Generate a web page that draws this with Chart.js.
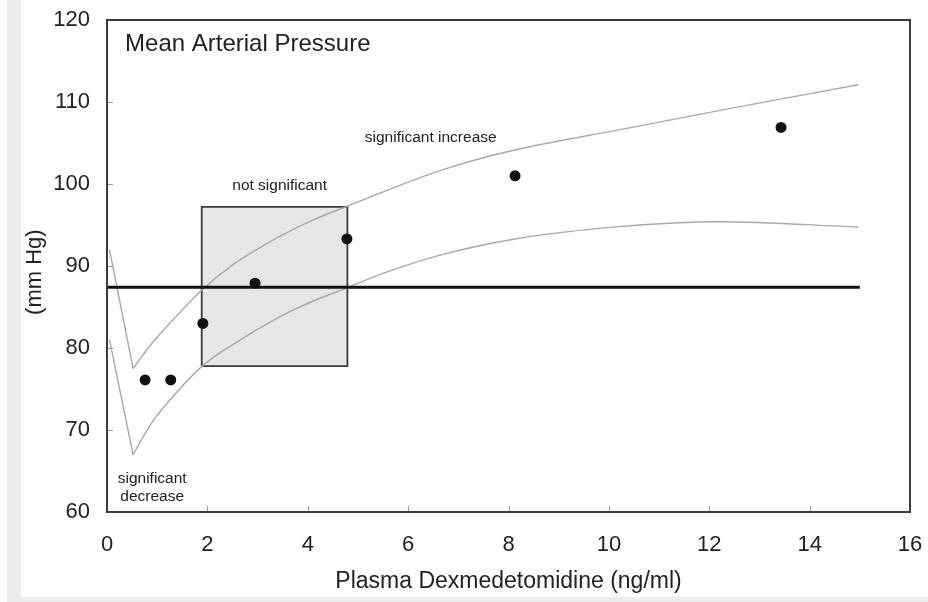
<!DOCTYPE html>
<html><head><meta charset="utf-8">
<script src="https://cdn.jsdelivr.net/npm/chart.js@4.4.0/dist/chart.umd.min.js"></script>
<style>
html,body{margin:0;padding:0;background:#fff;}
#wrap{position:relative;width:928px;height:602px;overflow:hidden;}
.strip{position:absolute;background:#ececec;}
canvas{position:absolute;left:0;top:0;}
</style></head><body>
<div id="wrap">
<div class="strip" style="left:7px;top:0;width:14px;height:602px"></div>
<div class="strip" style="left:7px;top:597px;width:921px;height:5px"></div>
<canvas id="c" width="928" height="602"></canvas>
</div>
<script>
// Observed data (plasma concentration ng/ml vs MAP mm Hg)
const concX = [0.76, 1.27, 1.91, 2.95, 4.78, 8.13, 13.43];
const mapY  = [76.1, 76.1, 83.0, 87.9, 93.3, 101.0, 106.9];
// Upper significance boundary
const upperX = [0.05, 0.52, 0.86, 1.19, 1.86, 2.45, 3.44, 4.1, 4.79, 6.62, 7.95, 10.2, 12.58, 14.97];
const upperY = [92.0, 77.5, 80.3, 82.6, 86.9, 89.9, 93.6, 95.6, 97.3, 101.6, 103.9, 106.6, 109.4, 112.1];
// Lower significance boundary
const lowerX = [0.05, 0.52, 0.86, 1.19, 1.88, 2.45, 3.44, 4.1, 4.77, 5.5, 6.62, 8.13, 10.2, 12.19, 14.97];
const lowerY = [81.0, 67.0, 70.6, 73.2, 77.7, 80.2, 83.8, 85.7, 87.3, 89.1, 91.3, 93.3, 94.8, 95.4, 94.75];
// Baseline MAP
const baselineX = [0, 15];
const baselineY = 87.4;
// "not significant" region
const boxX = [1.887, 4.79];
const boxY = [77.8, 97.2];
// Axis tick settings
const xRange = [0, 16], xStep = 2;
const yRange = [60, 120], yStep = 10;
// Annotations (data coordinates)
const notes = [
  {text: 'Mean Arterial Pressure', x: 0.36, y: 117.0, size: 24, align: 'left'},
  {text: 'significant increase', x: 6.45, y: 105.6, size: 15.5, align: 'center'},
  {text: 'not significant', x: 3.44, y: 99.8, size: 15.5, align: 'center'},
  {text: 'significant', x: 0.9, y: 64.1, size: 15.5, align: 'center'},
  {text: 'decrease', x: 0.9, y: 61.9, size: 15.5, align: 'center'}
];

const FONT = '"Liberation Sans", Arial, Helvetica, sans-serif';
const pts = (xs, ys) => xs.map((v, i) => ({x: v, y: ys[i]}));
const minIdx = ys => ys.indexOf(Math.min(...ys.slice(0, 4)));
const uMin = minIdx(upperY), lMin = minIdx(lowerY);
const curveStyle = {showLine: true, borderColor: '#a9a9a9', borderWidth: 1.4, pointRadius: 0, fill: false, order: 3};

const boxOpen = [
  {x: boxX[0], y: boxY[0]}, {x: boxX[0], y: boxY[1]},
  {x: boxX[1], y: boxY[1]}, {x: boxX[1], y: boxY[0]}
];
const boxClosed = boxOpen.concat([{x: boxX[0], y: boxY[0]}]);

const frame = {
  id: 'frame',
  afterDatasetsDraw(chart) {
    const {ctx, chartArea: a, scales: {x, y}} = chart;
    ctx.save();
    ctx.strokeStyle = '#9a9a9a'; ctx.lineWidth = 1;
    y.ticks.forEach(t => { const p = Math.round(y.getPixelForValue(t.value)) + 0.5;
      ctx.beginPath(); ctx.moveTo(a.left, p); ctx.lineTo(a.left + 6, p); ctx.stroke(); });
    x.ticks.forEach(t => { const p = Math.round(x.getPixelForValue(t.value)) + 0.5;
      ctx.beginPath(); ctx.moveTo(p, a.bottom); ctx.lineTo(p, a.bottom - 6); ctx.stroke(); });
    ctx.strokeStyle = '#3a3a3a'; ctx.lineWidth = 2;
    ctx.strokeRect(a.left, a.top, a.right - a.left, a.bottom - a.top);
    ctx.fillStyle = '#222'; ctx.textBaseline = 'middle';
    notes.forEach(n => {
      ctx.font = n.size + 'px ' + FONT; ctx.textAlign = n.align;
      ctx.fillText(n.text, x.getPixelForValue(n.x), y.getPixelForValue(n.y));
    });
    ctx.restore();
  }
};

new Chart(document.getElementById('c'), {
  type: 'scatter',
  data: {
    datasets: [
      {data: boxOpen, showLine: true, borderWidth: 0, borderColor: 'rgba(0,0,0,0)', pointRadius: 0,
       backgroundColor: '#e6e6e6', fill: {target: {value: boxY[0]}}, order: 6},
      {data: boxClosed, showLine: true, borderColor: '#3a3a3a', borderWidth: 1.8, pointRadius: 0,
       fill: false, order: 4},
      Object.assign({data: pts(upperX, upperY).slice(0, uMin + 1), tension: 0}, curveStyle),
      Object.assign({data: pts(upperX, upperY).slice(uMin), cubicInterpolationMode: 'monotone'}, curveStyle),
      Object.assign({data: pts(lowerX, lowerY).slice(0, lMin + 1), tension: 0}, curveStyle),
      Object.assign({data: pts(lowerX, lowerY).slice(lMin), cubicInterpolationMode: 'monotone'}, curveStyle),
      {data: baselineX.map(v => ({x: v, y: baselineY})), showLine: true, borderColor: '#111',
       borderWidth: 3, pointRadius: 0, fill: false, order: 2},
      {data: pts(concX, mapY), showLine: false, pointRadius: 5.5, pointBackgroundColor: '#111',
       pointBorderColor: '#111', pointBorderWidth: 0, order: 1}
    ]
  },
  options: {
    responsive: false, animation: false, events: [],
    layout: {padding: {left: 21, right: 18, top: 20, bottom: 3}},
    plugins: {legend: {display: false}, tooltip: {enabled: false}},
    scales: {
      x: {
        type: 'linear', min: xRange[0], max: xRange[1],
        afterFit: s => { s.height = 87; s.paddingLeft = 0; s.paddingRight = 0; },
        grid: {display: false, drawTicks: false}, border: {display: false},
        ticks: {stepSize: xStep, padding: 20, color: '#222', font: {family: FONT, size: 22}},
        title: {display: true, text: 'Plasma Dexmedetomidine (ng/ml)', color: '#222',
                font: {family: FONT, size: 23}, padding: {top: 0, bottom: 4}}
      },
      y: {
        type: 'linear', min: yRange[0], max: yRange[1],
        afterFit: s => { s.width = 86; s.paddingTop = 0; s.paddingBottom = 0; },
        grid: {display: false, drawTicks: false}, border: {display: false},
        ticks: {stepSize: yStep, padding: 17, color: '#222', font: {family: FONT, size: 22}},
        title: {display: true, text: '(mm Hg)  ', color: '#222',
                font: {family: FONT, size: 22}, padding: {top: 1, bottom: 0}}
      }
    }
  },
  plugins: [frame]
});
</script>
</body></html>
